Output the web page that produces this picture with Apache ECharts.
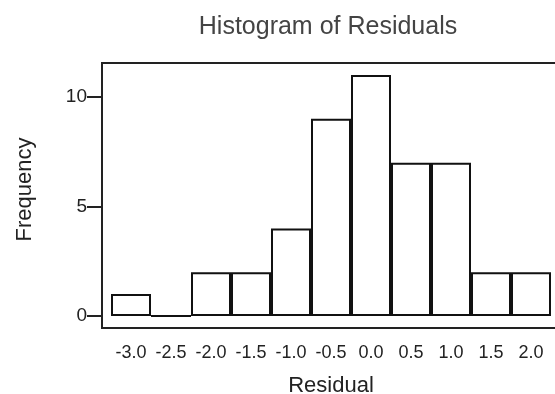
<!DOCTYPE html>
<html>
<head>
<meta charset="utf-8">
<script src="https://cdn.jsdelivr.net/npm/echarts@6/dist/echarts.min.js"></script>
<style>
  html, body { margin: 0; padding: 0; background: #fff; }
  #chart { width: 555px; height: 394px; }
</style>
</head>
<body>
<div id="chart"></div>
<script>
// bin midpoints and counts
const binLabels = ['-3.0', '-2.5', '-2.0', '-1.5', '-1.0', '-0.5', '0.0', '0.5', '1.0', '1.5', '2.0']
const frequencies = [1, 0, 2, 2, 4, 9, 11, 7, 7, 2, 2]
const yTicks = [0, 5, 10]
const yMin = 0
const yMax = 11.55

const chart = echarts.init(document.getElementById('chart'))

const font = 'Liberation Sans, Arial, sans-serif'

const option = {
  backgroundColor: '#fff',
  animation: false,
  title: {
    text: 'Histogram of Residuals',
    left: 323,
    top: 10,
    textAlign: 'center',
    textStyle: {
      fontFamily: font,
      fontSize: 25,
      fontWeight: 'normal',
      color: '#444'
    }
  },
  grid: {
    left: 111,
    right: 4,
    top: 63,
    bottom: 78,
    outerBoundsMode: 'none'
  },
  // plot frame (box around the data area)
  graphic: [
    {
      type: 'rect',
      shape: { x: 102, y: 63, width: 470, height: 265 },
      style: { fill: 'none', stroke: '#222', lineWidth: 2 },
      z: 10
    }
  ],
  xAxis: {
    type: 'category',
    data: binLabels,
    offset: 12,
    name: 'Residual',
    nameLocation: 'middle',
    nameGap: 47,
    nameTextStyle: { fontFamily: font, fontSize: 22, color: '#222' },
    axisLine: { show: false },
    axisTick: {
      alignWithLabel: true,
      length: 6,
      lineStyle: { color: '#222', width: 2 }
    },
    axisLabel: {
      fontFamily: font,
      fontSize: 18,
      color: '#222',
      margin: 16,
      interval: 0
    },
    splitLine: { show: false }
  },
  yAxis: {
    type: 'value',
    min: yMin,
    max: yMax,
    offset: 9,
    name: 'Frequency',
    nameLocation: 'middle',
    nameGap: 66,
    nameTextStyle: { fontFamily: font, fontSize: 22, color: '#222' },
    axisLine: { show: false },
    axisTick: {
      show: true,
      length: 15,
      customValues: yTicks,
      lineStyle: { color: '#222', width: 2 }
    },
    axisLabel: {
      fontFamily: font,
      fontSize: 19,
      color: '#222',
      margin: 15,
      customValues: yTicks
    },
    splitLine: { show: false }
  },
  series: [
    {
      type: 'bar',
      data: frequencies,
      barCategoryGap: 0,
      itemStyle: {
        color: '#fff',
        borderColor: '#111',
        borderWidth: 2
      }
    }
  ]
}

chart.setOption(option)
</script>
</body>
</html>
